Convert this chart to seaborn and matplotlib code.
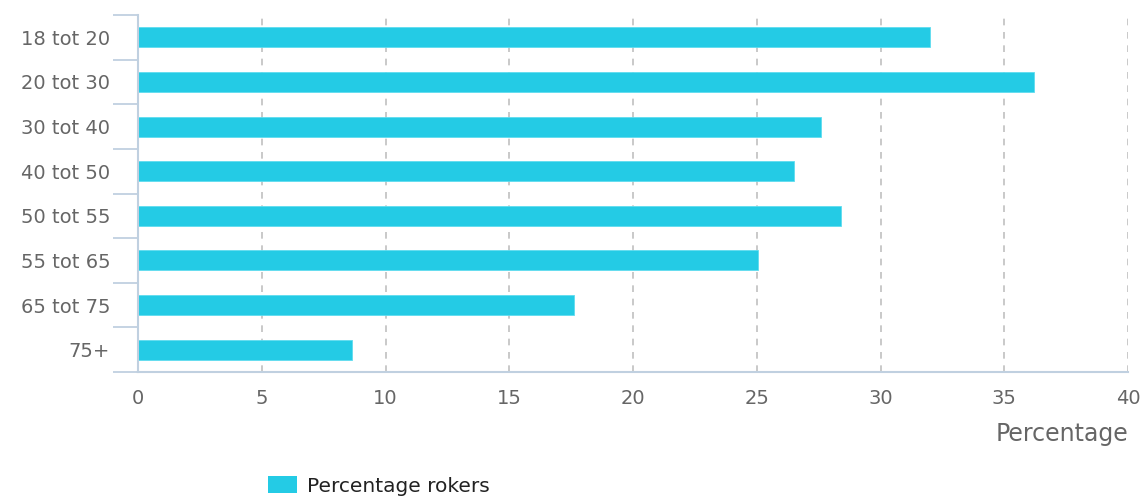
import matplotlib
matplotlib.use("Agg")
import matplotlib.pyplot as plt
import seaborn as sns
import pandas as pd
import numpy as np
from matplotlib.patches import Patch

categories = ["18 tot 20", "20 tot 30", "30 tot 40", "40 tot 50", "50 tot 55", "55 tot 65", "65 tot 75", "75+"]
values = [32.0, 36.2, 27.6, 26.5, 28.4, 25.05, 17.6, 8.65]
x_ticks = [0, 5, 10, 15, 20, 25, 30, 35, 40]
series_name = "Percentage rokers"
x_title = "Percentage"

sns.set_theme(style="white")
plt.rcParams['font.family'] = ['DejaVu Sans']

W, H = 1144, 497
fig = plt.figure(figsize=(W / 100, H / 100), dpi=100)
ax = fig.add_axes([138 / W, 1 - 372 / H, (1128 - 138) / W, (372 - 15) / H])

df = pd.DataFrame({"cat": categories, "val": values})
bar_color = "#24cbe5"
sns.barplot(data=df, y="cat", x="val", orient="h", color=bar_color, width=0.45,
            saturation=1, ax=ax, edgecolor="#5fdcef", linewidth=0.6)

ax.set_xlim(0, 40)
ax.set_ylim(len(categories) - 0.5, -0.5)
ax.set_xticks(x_ticks)
ax.set_xticklabels([str(t) for t in x_ticks])
for t in x_ticks[1:]:
    ax.axvline(t, color="#c0c0c0", linestyle=(0, (4, 4)), linewidth=1.2, zorder=0)

axis_col = "#c0d0e0"
for s in ["top", "right"]:
    ax.spines[s].set_visible(False)
ax.spines["left"].set_color(axis_col)
ax.spines["bottom"].set_color(axis_col)
ax.spines["left"].set_linewidth(1.5)
ax.spines["bottom"].set_linewidth(1.5)

ax.set_yticks(np.arange(len(categories)))
ax.set_yticklabels(categories)
ax.set_yticks(np.arange(len(categories) + 1) - 0.5, minor=True)
ax.tick_params(axis="y", which="major", length=0, pad=20, labelsize=14, labelcolor="#666666")
ax.tick_params(axis="y", which="minor", length=18, width=1.3, color=axis_col, left=True)
ax.tick_params(axis="x", which="major", length=0, pad=12, labelsize=14, labelcolor="#666666")
for lbl in ax.get_yticklabels():
    lbl.set_va("center_baseline")
    lbl.set_y(lbl.get_position()[1])
ax.set_ylabel("")
ax.set_xlabel("")

fig.text(1128 / W, 1 - 434 / H, x_title, ha="right", va="center", fontsize=17, color="#666666")

handle = Patch(facecolor=bar_color, edgecolor="none")
fig.legend([handle], [series_name], loc="center left", bbox_to_anchor=(268 / W, 1 - 486 / H),
           frameon=False, fontsize=14.5, handlelength=1.45, handleheight=0.85,
           handletextpad=0.5, borderpad=0, borderaxespad=0, labelcolor="#222222")

fig.savefig("out.png", dpi=100)
